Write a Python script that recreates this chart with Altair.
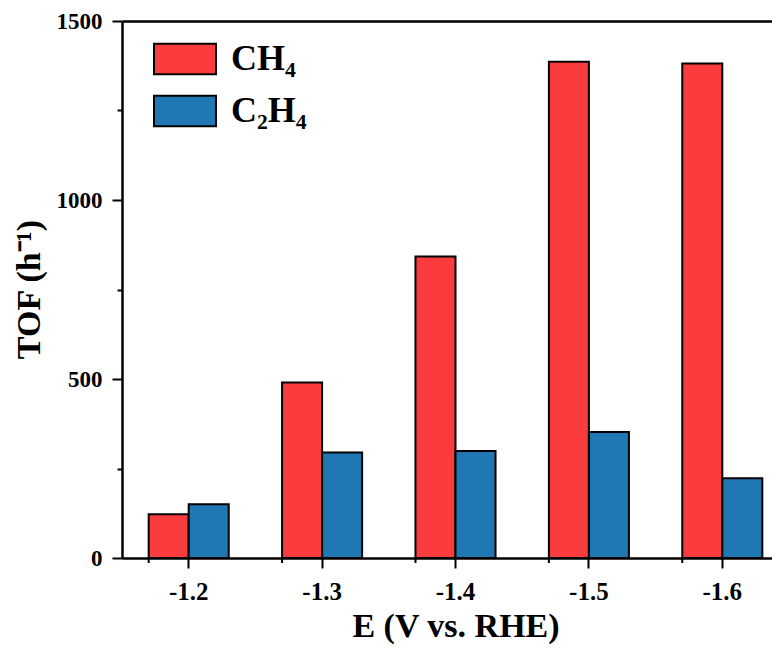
import altair as alt
import pandas as pd

potentials = ["-1.2", "-1.3", "-1.4", "-1.5", "-1.6"]
ch4_tof = [122, 490, 842, 1386, 1381]
c2h4_tof = [150, 295, 299, 352, 223]
products = ["CH₄", "C₂H₄"]
colors = ["#FA3C3E", "#1F77B4"]
y_ticks = [0, 250, 500, 750, 1000, 1250, 1500]

rows = []
for e, a, b in zip(potentials, ch4_tof, c2h4_tof):
    rows.append({"E": e, "Product": products[0], "TOF": a})
    rows.append({"E": e, "Product": products[1], "TOF": b})
df = pd.DataFrame(rows)
cats = pd.DataFrame({"E": potentials})

FONT = "Liberation Serif"
X_SCALE = alt.Scale(paddingInner=0.4, paddingOuter=0.2, range=[0, 667])

bars = alt.Chart(df).mark_bar(stroke="black", strokeWidth=2).encode(
    x=alt.X(
        "E:N",
        sort=potentials,
        scale=X_SCALE,
        title="E (V vs. RHE)",
        axis=alt.Axis(orient="bottom", labelAngle=0, tickSize=10, labelPadding=11,
                      titlePadding=5, labelFontSize=25),
    ),
    xOffset=alt.XOffset("Product:N", sort=products),
    y=alt.Y(
        "TOF:Q",
        scale=alt.Scale(domain=[0, 1500], nice=False),
        title="TOF (h⁻¹)",
        axis=alt.Axis(
            values=y_ticks,
            format="d",
            labelExpr="datum.value % 500 === 0 ? datum.label : ''",
            tickSize={"condition": {"test": "datum.value % 500 === 0", "value": 10}, "value": 5},
            labelPadding=10,
            titleX=-93,
            titleY=268,
            titleAngle=270,
            titleAlign="center",
            titleBaseline="middle",
        ),
    ),
    color=alt.Color(
        "Product:N",
        sort=products,
        scale=alt.Scale(domain=products, range=colors),
        legend=alt.Legend(
            orient="none",
            legendX=31,
            legendY=6,
            title=None,
            symbolType="M-1,-0.49H1V0.49H-1Z",
            symbolSize=3844,
            symbolStrokeColor="black",
            symbolStrokeWidth=2,
            symbolOpacity=1,
            labelFont=FONT,
            labelFontSize=36,
            labelFontWeight="bold",
            labelColor="black",
            labelOffset=14,
            rowPadding=0,
            padding=0,
        ),
    ),
)

minor = alt.Chart(cats).mark_rule(color="black", strokeWidth=2).encode(
    x=alt.X(
        "E:N",
        sort=potentials,
        bandPosition=0,
        scale=X_SCALE,
        axis=alt.Axis(orient="top", labels=False, ticks=False, title=None, domain=True),
    ),
    y=alt.value(537),
    y2=alt.value(542),
)

chart = (
    alt.layer(bars, minor)
    .resolve_axis(x="independent")
    .properties(
        width=650,
        height=537,
        autosize="none",
        padding={"left": 114, "top": 13, "right": 0, "bottom": 89},
    )
    .configure_view(stroke=None)
    .configure_axis(
        domainColor="black",
        domainWidth=2.5,
        tickColor="black",
        tickWidth=2,
        grid=False,
        labelFont=FONT,
        labelFontSize=23,
        labelFontWeight="bold",
        labelColor="black",
        titleFont=FONT,
        titleFontSize=34,
        titleFontWeight="bold",
        titleColor="black",
    )
)

chart.save("out.html", embed_options={"renderer": "svg", "actions": False})
